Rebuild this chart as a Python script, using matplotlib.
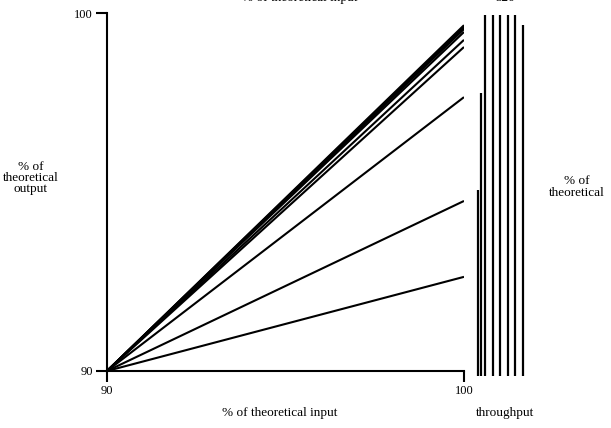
import matplotlib.pyplot as plt

plt.rcParams["font.family"] = ["Liberation Serif", "DejaVu Serif"]

# lines from (90, 90) to x = 100, end values
line_x = [90, 100]
line_ends = [99.66, 99.62, 99.58, 99.55, 99.47, 99.25, 99.05, 97.65, 94.75, 92.63]

# throughput bars on the right (top values)
bar_tops = [95.06, 97.77, 99.94, 99.94, 99.94, 99.94, 99.94, 99.66]
bar_pos = [0.0, 0.4, 1.0, 2.0, 3.0, 4.0, 5.0, 6.0]
bar_base = 89.85


def main():
    fig = plt.figure(figsize=(6.11, 4.28), dpi=100)
    ax = fig.add_axes([0.1751, 0.1332, 0.5843, 0.8364])

    for end in line_ends:
        ax.plot(line_x, [90, end], color="black", lw=1.5, solid_capstyle="butt")

    ax.set_xlim(90, 100)
    ax.set_ylim(90, 100)
    ax.spines["top"].set_visible(False)
    ax.spines["right"].set_visible(False)
    for s in ("left", "bottom"):
        ax.spines[s].set_linewidth(1.5)
    ax.set_xticks([90, 100])
    ax.set_yticks([90, 100])
    ax.set_xticklabels(["90", "100"], fontsize=9)
    ax.set_yticklabels(["90", "100"], fontsize=9)
    ax.tick_params(axis="both", direction="out", length=8, width=1.5, pad=2)

    # bars axes
    bx = fig.add_axes([0.7786, 0.1332, 0.081, 0.8364])
    bx.vlines(bar_pos, bar_base, bar_tops, colors="black", lw=1.6, clip_on=False)
    bx.set_xlim(-0.3, 6.3)
    bx.set_ylim(90, 100)
    bx.axis("off")

    fs = 9.5
    fig.text(0.05, 0.585, "% of\ntheoretical\noutput", ha="center", va="center",
             fontsize=fs, linespacing=0.9)
    fig.text(0.944, 0.563, "% of\ntheoretical", ha="center", va="center",
             fontsize=fs, linespacing=0.9)
    fig.text(0.458, 0.036, "% of theoretical input", ha="center", va="center",
             fontsize=fs)
    fig.text(0.827, 0.034, "throughput", ha="center", va="center", fontsize=fs)
    # text cut off at top edge, as in the scan
    fig.text(0.49, 1.004, "% of theoretical input", ha="center", va="center",
             fontsize=fs)
    fig.text(0.826, 1.004, "520", ha="center", va="center", fontsize=fs)

    fig.savefig("out.png", dpi=100)
    plt.close(fig)


if __name__ == "__main__":
    main()
